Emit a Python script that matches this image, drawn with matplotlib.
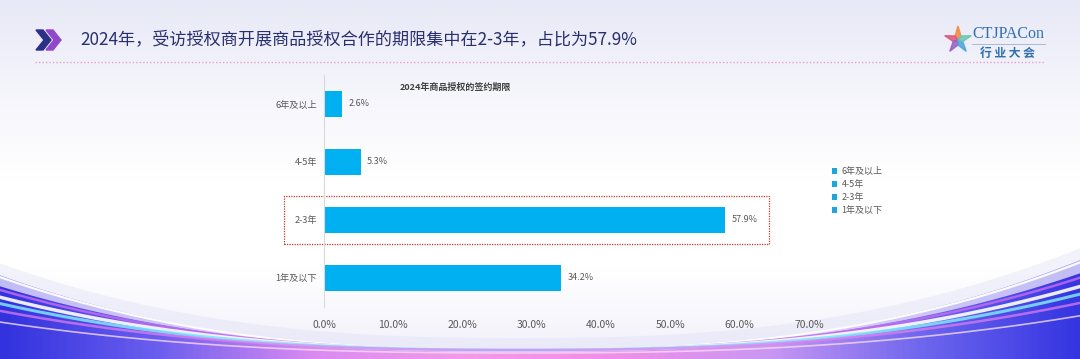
import numpy as np
import matplotlib.pyplot as plt
from matplotlib.patches import Polygon, Rectangle, Patch
from matplotlib.colors import LinearSegmentedColormap

plt.rcParams['font.family'] = ['Noto Sans CJK SC', 'DejaVu Sans']

# 数据
categories = ['1年及以下', '2-3年', '4-5年', '6年及以上']
values = [34.2, 57.9, 5.3, 2.6]
xticks = [0, 10, 20, 30, 40, 50, 60, 70]
legend_labels = ['6年及以上', '4-5年', '2-3年', '1年及以下']

headline = '2024年，受访授权商开展商品授权合作的期限集中在2-3年，占比为57.9%'
chart_title = '2024年商品授权的签约期限'

W, H = 1080, 359
fig = plt.figure(figsize=(W / 100, H / 100), dpi=100)

# 背景
bg = fig.add_axes([0, 0, 1, 1], zorder=-1)
bg.set_xlim(0, W)
bg.set_ylim(H, 0)
bg.axis('off')

grad = np.linspace(0, 1, 200).reshape(-1, 1)
bg_cmap = LinearSegmentedColormap.from_list('bg', ['#e7e9f6', '#f5f5fc', '#ffffff', '#ffffff', '#f1f0fa'])
bg.imshow(grad, extent=[0, W, H, 0], cmap=bg_cmap, aspect='auto')

# 底部波浪
xs = np.linspace(0, W, 400)
u = np.abs((xs - 520) / 540)


def curve(a, base=350, p=2.5):
    return base - a * u ** p


top = curve(82)
bg.fill_between(xs, top - 12, top, color='#dcdcf5', alpha=0.35, lw=0)
wave_cmap = LinearSegmentedColormap.from_list(
    'wave', ['#3232de', '#6a5eee', '#d98af2', '#f39ae9', '#f08fe8', '#c997f3', '#6d66ee', '#3535e2'])
wimg = bg.imshow(np.linspace(0, 1, 400).reshape(1, -1), extent=[0, W, H, 250], cmap=wave_cmap, aspect='auto')
poly = Polygon(np.column_stack([np.r_[xs, W, 0], np.r_[top, H, H]]), closed=True, transform=bg.transData,
               facecolor='none', edgecolor='none')
bg.add_patch(poly)
wimg.set_clip_path(poly)
# 光带
bg.fill_between(xs, top, curve(70), color='#e6e0fa', alpha=0.8, lw=0)
bg.plot(xs, curve(80), color='white', lw=1.5, alpha=0.95)
bg.plot(xs, curve(66), color='#c86cf0', lw=1.8, alpha=0.8)
bg.plot(xs, curve(58), color='white', lw=2.5, alpha=0.9)
bg.plot(xs, curve(51), color='#7fe6f8', lw=2.2, alpha=0.85)
bg.plot(xs, curve(43), color='#e67ff0', lw=1.8, alpha=0.7)
bg.plot(xs, curve(34, base=353), color='#f7d9f8', lw=1.2, alpha=0.8)

# 标题图标
bg.add_patch(Polygon([[36, 30], [43, 30], [51, 40], [43, 50], [36, 50], [44, 40]], closed=True, color='#2c2f88'))
bg.add_patch(Polygon([[46, 30], [53, 30], [61, 40], [53, 50], [46, 50], [54, 40]], closed=True, color='#9147cc'))
bg.text(80, 40, headline, fontsize=12.3, color='#2a2f6e', va='center', ha='left')
bg.plot([35, 1045], [62, 62], linestyle=(0, (1, 1.5)), color='#e99ccf', lw=1)

# logo
star_colors = ['#f28b3c', '#d9577e', '#9a5cc6', '#4aa3d8', '#6cc4b0']
for k, c in enumerate(star_colors):
    ang = np.pi / 2 + k * 2 * np.pi / 5
    cx, cy = 958, 40
    tip = [cx + 14 * np.cos(ang), cy - 14 * np.sin(ang)]
    l1 = [cx + 5 * np.cos(ang + 0.63), cy - 5 * np.sin(ang + 0.63)]
    l2 = [cx + 5 * np.cos(ang - 0.63), cy - 5 * np.sin(ang - 0.63)]
    bg.add_patch(Polygon([tip, l1, [cx, cy], l2], closed=True, color=c, alpha=0.85))
bg.text(1008, 34, 'CTJPACon', fontsize=11.5, family=['Liberation Serif'], color='#2f6fb0', ha='center', va='center')
bg.plot([972, 1045], [44, 44], color='#9fb3d0', lw=0.6)
bg.text(1007, 53, '行 业 大 会', fontsize=8.5, color='#2f6fb0', ha='center', va='center', fontweight='bold')

# 条形图
ax = fig.add_axes([324 / W, 1 - 307 / H, 485 / W, 232 / H])
ax.patch.set_alpha(0)
y = np.arange(len(categories))
ax.barh(y, values, height=0.45, color='#00b0f0')
for yi, v in zip(y, values):
    ax.text(v + 0.9, yi, f'{v:.1f}%', va='center', ha='left', fontsize=6.5, color='#595959')

ax.set_xlim(0, 70)
ax.set_ylim(-0.5, 3.5)
ax.set_xticks(xticks)
ax.set_xticklabels([f'{t:.1f}%' for t in xticks], fontsize=7.5, color='#595959')
ax.set_yticks(y)
ax.set_yticklabels(categories, fontsize=6.6, color='#595959')
ax.tick_params(axis='both', length=0)
ax.tick_params(axis='x', pad=9)
ax.tick_params(axis='y', pad=5)
for s in ['top', 'right', 'bottom']:
    ax.spines[s].set_visible(False)
ax.spines['left'].set_color('#d9d9d9')
ax.spines['left'].set_linewidth(0.8)

ax.text(0.27, 0.948, chart_title, transform=ax.transAxes, ha='center', va='center',
        fontsize=6.5, fontweight='bold', color='#404040')

# 高亮框
ax.add_patch(Rectangle((-5.8, 1 - 0.41), 70.0, 0.82, fill=False, edgecolor='#c0392b',
                       linestyle=(0, (1, 1)), lw=0.9, clip_on=False))

handles = [Patch(facecolor='#1ca6dc', edgecolor='none') for _ in legend_labels]
ax.legend(handles, legend_labels, loc='center left', bbox_to_anchor=(1.03, 0.5), frameon=False,
          fontsize=6.5, handlelength=0.6, handleheight=0.6, handletextpad=0.5, labelspacing=0.45,
          labelcolor='#595959')

fig.savefig('out.png', dpi=100)
